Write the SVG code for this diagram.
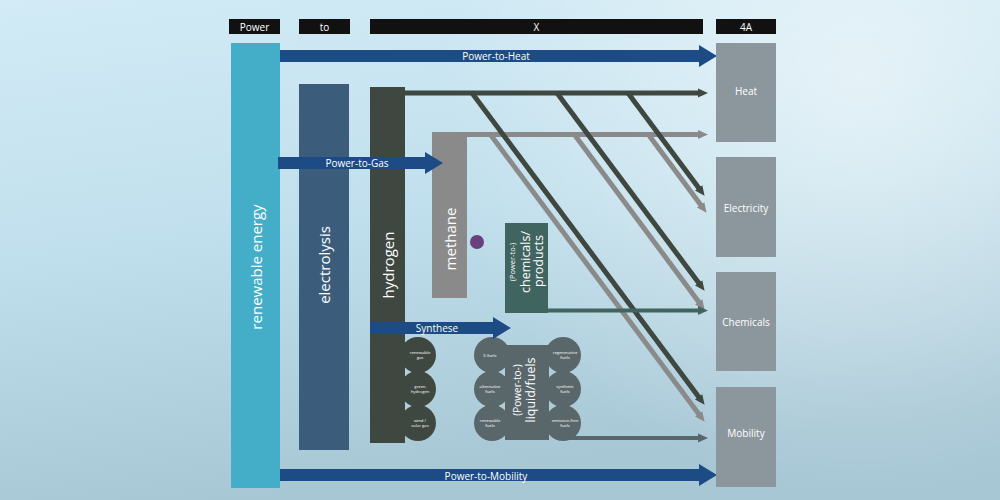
<svg xmlns="http://www.w3.org/2000/svg" width="1000" height="500" viewBox="0 0 1000 500">
<defs>
<linearGradient id="bg" x1="0" y1="0" x2="0.25" y2="1">
<stop offset="0" stop-color="#d2ebf6"/>
<stop offset="0.5" stop-color="#c0dfec"/>
<stop offset="1" stop-color="#a7c7d5"/>
</linearGradient>
<radialGradient id="glow" cx="860" cy="80" r="420" gradientUnits="userSpaceOnUse">
<stop offset="0" stop-color="#ffffff" stop-opacity="0.55"/>
<stop offset="1" stop-color="#ffffff" stop-opacity="0"/>
</radialGradient>
<marker id="mDark" viewBox="0 0 10 10" refX="4" refY="5" markerWidth="10" markerHeight="10" markerUnits="userSpaceOnUse" orient="auto"><path d="M0,0.5 L10,5 L0,9.5 z" fill="#3e4740"/></marker>
<marker id="mGray" viewBox="0 0 10 10" refX="4" refY="5" markerWidth="10" markerHeight="10" markerUnits="userSpaceOnUse" orient="auto"><path d="M0,0.5 L10,5 L0,9.5 z" fill="#8a8a8a"/></marker>
<marker id="mTeal" viewBox="0 0 10 10" refX="4" refY="5" markerWidth="10" markerHeight="10" markerUnits="userSpaceOnUse" orient="auto"><path d="M0,0.5 L10,5 L0,9.5 z" fill="#40645f"/></marker>
<marker id="mSlate" viewBox="0 0 10 10" refX="4" refY="5" markerWidth="10" markerHeight="10" markerUnits="userSpaceOnUse" orient="auto"><path d="M0,0.5 L10,5 L0,9.5 z" fill="#59676b"/></marker>
<style>
text{font-family:"Open Sans","Liberation Sans",sans-serif;fill:#ffffff;}
.hdr{font-size:10px;text-anchor:middle;dominant-baseline:central;}
.lbl{font-size:10px;text-anchor:middle;dominant-baseline:central;}
.big{font-size:15px;text-anchor:middle;dominant-baseline:central;}
.tiny{font-family:"Open Sans","Liberation Sans",sans-serif;font-size:4.2px;text-anchor:middle;}
.out{fill:#8b979d;}
.arrow{fill:#1c4b85;}
.dk{stroke:#3e4740;stroke-width:5;fill:none;marker-end:url(#mDark);}
.gy{stroke:#8a8a8a;stroke-width:5;fill:none;marker-end:url(#mGray);}
.tl{stroke:#40645f;stroke-width:4;fill:none;marker-end:url(#mTeal);}
.sl{stroke:#59676b;stroke-width:4;fill:none;marker-end:url(#mSlate);}
.h2{fill:#3e4740;}
.lf{fill:#59676b;}
</style>
</defs>
<rect width="1000" height="500" fill="url(#bg)"/>
<rect width="1000" height="500" fill="url(#glow)"/>

<g id="headers">
<rect x="229" y="19" width="51" height="15" fill="#111"/><text class="hdr" x="254.5" y="26.5">Power</text>
<rect x="299" y="19" width="51" height="15" fill="#111"/><text class="hdr" x="324.5" y="26.5">to</text>
<rect x="370" y="19" width="333" height="15" fill="#111"/><text class="hdr" x="536.5" y="26.5">X</text>
<rect x="716" y="19" width="60" height="15" fill="#111"/><text class="hdr" x="746" y="26.5">4A</text>
</g>

<g id="renewable">
<rect x="231" y="43" width="49" height="445" fill="#44adc7"/>
<text class="big" transform="translate(255.5,267) rotate(-90)">renewable energy</text>
</g>
<g id="electrolysis">
<rect x="299" y="84" width="50" height="366" fill="#3b5d7b"/>
<text class="big" transform="translate(324,265) rotate(-90)">electrolysis</text>
</g>

<g id="connectors">
<line class="dk" x1="404" y1="93" x2="702" y2="93"/>
<line class="gy" x1="440" y1="134.5" x2="702" y2="134.5"/>
<line class="dk" x1="472" y1="93" x2="701" y2="400"/>
<line class="dk" x1="557" y1="93" x2="701" y2="286"/>
<line class="dk" x1="628" y1="93" x2="701" y2="191"/>
<line class="gy" x1="490" y1="134" x2="701" y2="417"/>
<line class="gy" x1="574" y1="134" x2="701" y2="305"/>
<line class="gy" x1="648" y1="134" x2="703" y2="208"/>
<line class="tl" x1="540" y1="310.5" x2="702" y2="310.5"/>
<line class="sl" x1="565" y1="438" x2="702" y2="438"/>
</g>

<g id="hydrogen">
<rect x="370" y="87" width="35" height="356" class="h2"/>
<circle cx="418" cy="355" r="18" class="h2"/>
<circle cx="418" cy="389" r="18" class="h2"/>
<circle cx="418" cy="423" r="18" class="h2"/>
<text class="tiny" x="420" y="354">renewable</text><text class="tiny" x="420" y="359">gas</text>
<text class="tiny" x="420" y="388">green</text><text class="tiny" x="420" y="393">hydrogen</text>
<text class="tiny" x="420" y="422">wind /</text><text class="tiny" x="420" y="427">solar gas</text>
<text class="big" transform="translate(387.5,265) rotate(-90)">hydrogen</text>
</g>

<g id="methane">
<rect x="432" y="132" width="35" height="166" fill="#8a8a8a"/>
<text class="big" transform="translate(449.5,239) rotate(-90)">methane</text>
</g>

<g id="dot"><circle cx="477" cy="242" r="7" fill="#6b3f7d"/></g>

<g id="chemicals-products">
<rect x="505" y="223" width="43" height="90" fill="#40645f"/>
<text transform="translate(512,262) rotate(-90)" style="font-size:7.5px;text-anchor:middle;dominant-baseline:central">(Power-to-)</text>
<text transform="translate(525,262) rotate(-90)" style="font-size:12.5px;text-anchor:middle;dominant-baseline:central">chemicals/</text>
<text transform="translate(538,261) rotate(-90)" style="font-size:12.5px;text-anchor:middle;dominant-baseline:central">products</text>
</g>

<g id="liquid-fuels">
<circle cx="492" cy="355" r="18" class="lf"/>
<circle cx="492" cy="389" r="18" class="lf"/>
<circle cx="492" cy="423" r="18" class="lf"/>
<circle cx="563" cy="355" r="18" class="lf"/>
<circle cx="563" cy="389" r="18" class="lf"/>
<circle cx="563" cy="423" r="18" class="lf"/>
<rect x="505" y="345" width="44" height="95" class="lf"/>
<text class="tiny" x="490" y="357">E-fuels</text>
<text class="tiny" x="490" y="388">alternative</text><text class="tiny" x="490" y="393">fuels</text>
<text class="tiny" x="490" y="422">renewable</text><text class="tiny" x="490" y="427">fuels</text>
<text class="tiny" x="565" y="354">regenerative</text><text class="tiny" x="565" y="359">fuels</text>
<text class="tiny" x="565" y="388">synthetic</text><text class="tiny" x="565" y="393">fuels</text>
<text class="tiny" x="565" y="422">emission-free</text><text class="tiny" x="565" y="427">fuels</text>
<text transform="translate(517,390) rotate(-90)" style="font-size:10px;text-anchor:middle;dominant-baseline:central">(Power-to-)</text>
<text transform="translate(530,390) rotate(-90)" style="font-size:12.5px;text-anchor:middle;dominant-baseline:central">liquid/fuels</text>
</g>

<g id="arrows">
<g id="power-to-heat"><polygon class="arrow" points="280,50 699,50 699,45 717,56 699,67 699,62 280,62"/><text class="lbl" x="496" y="56">Power-to-Heat</text></g>
<g id="power-to-gas"><polygon class="arrow" points="278,157 425,157 425,152 443,163 425,174 425,169 278,169"/><text class="lbl" x="357" y="163">Power-to-Gas</text></g>
<g id="synthese"><polygon class="arrow" points="370,322 493,322 493,317 511,328 493,339 493,334 370,334"/><text class="lbl" x="437" y="328">Synthese</text></g>
<g id="power-to-mobility"><polygon class="arrow" points="280,469 699,469 699,464 717,475 699,486 699,481 280,481"/><text class="lbl" x="486" y="476">Power-to-Mobility</text></g>
</g>

<g id="heat"><rect class="out" x="716" y="43" width="60" height="99"/><text class="lbl" x="746" y="91">Heat</text></g>
<g id="electricity"><rect class="out" x="716" y="157" width="60" height="100"/><text class="lbl" x="746" y="208">Electricity</text></g>
<g id="chemicals"><rect class="out" x="716" y="272" width="60" height="99"/><text class="lbl" x="746" y="322">Chemicals</text></g>
<g id="mobility"><rect class="out" x="716" y="387" width="60" height="100"/><text class="lbl" x="746" y="433">Mobility</text></g>
</svg>
